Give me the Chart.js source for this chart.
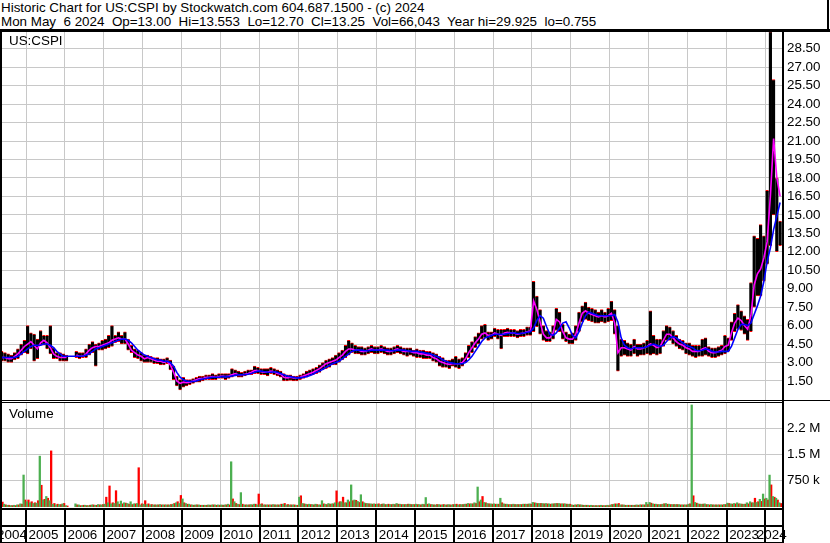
<!DOCTYPE html>
<html>
<head>
<meta charset="utf-8">
<title>US:CSPI historic chart</title>
<script src="https://cdn.jsdelivr.net/npm/chart.js@4.4.1/dist/chart.umd.min.js"></script>
<style>
    body { margin: 0; background: #fff; }
    #wrap { position: relative; width: 830px; height: 543px; overflow: hidden; font-family: "Liberation Sans", Arial, sans-serif; font-size: 13.4px; color: #000; }
    .title { position: absolute; left: 1px; white-space: pre; line-height: 15px; }
    .tag { position: absolute; line-height: 15px; }
    .rule { position: absolute; background: #000; }
    canvas { position: absolute; }
</style>
</head>
<body>
<div id="wrap">
    <canvas id="priceChart" width="828" height="368" style="left:2px;top:32px"></canvas>
    <canvas id="volumeChart" width="828" height="140" style="left:2px;top:403px"></canvas>
    <div class="title" id="titleLine" style="top:0"></div>
    <div class="title" id="quoteLine" style="top:14px"></div>
    <div class="tag" id="symbolTag" style="left:9px;top:33px"></div>
    <div class="tag" id="volumeTag" style="left:9px;top:406px"></div>
    <div class="rule" style="left:0;top:29px;width:830px;height:3px"></div>
    <div class="rule" style="left:827px;top:0;width:2px;height:32px"></div>
    <div class="rule" style="left:0;top:29px;width:2px;height:514px"></div>
    <div class="rule" style="left:782px;top:29px;width:2px;height:514px"></div>
    <div class="rule" style="left:0;top:400px;width:830px;height:1px"></div>
    <div class="rule" style="left:0;top:402px;width:784px;height:1px"></div>
</div>
<script>
// Monthly bars, May 2004 .. May 2024 (prices in $, volumes in thousands)
const startYear = 2004
const startMonth = 5

const highs = [
    3.9, 3.8, 3.7, 3.6, 3.8, 4.1, 4.5, 4.8,                  // 2004
    6.0, 5.4, 5.3, 4.9, 5.6, 5.2, 5.2, 6.0, 4.2, 3.8, 3.8, 3.7, // 2005
    3.6, null, null, 3.9, 3.8, 3.8, 4.1, 4.5, 4.7, 4.5, 4.6, 4.8, // 2006
    4.9, 5.2, 6.0, 5.2, 5.5, 5.2, 5.5, 4.9, 4.4, 4.1, 4.0, 3.8, // 2007
    3.6, 3.6, 3.5, 3.4, 3.4, 3.3, 3.3, 3.4, 3.2, 2.7, 1.9, 1.6, // 2008
    1.8, 1.6, 1.6, 1.7, 1.8, 1.9, 1.9, 2.0, 2.0, 2.1, 2.0, 2.1, // 2009
    2.1, 2.1, 2.1, 2.5, 2.4, 2.3, 2.2, 2.3, 2.4, 2.4, 2.7, 2.6, // 2010
    2.5, 2.5, 2.5, 2.6, 2.5, 2.4, 2.3, 2.1, 2.0, 2.0, 1.9, 1.9, // 2011
    2.0, 2.1, 2.3, 2.4, 2.5, 2.6, 2.8, 3.0, 3.2, 3.3, 3.4, 3.6, // 2012
    3.8, 4.0, 4.4, 4.8, 4.6, 4.4, 4.3, 4.3, 4.2, 4.3, 4.4, 4.3, // 2013
    4.3, 4.4, 4.3, 4.2, 4.2, 4.3, 4.4, 4.3, 4.2, 4.2, 4.2, 4.0, // 2014
    4.1, 4.0, 4.0, 3.9, 3.9, 3.8, 3.7, 3.5, 3.4, 3.2, 3.2, 3.3, // 2015
    3.5, 3.3, 3.4, 3.8, 4.4, 4.7, 5.1, 5.4, 6.0, 6.1, 5.5, 5.5, // 2016
    5.8, 5.7, 5.7, 5.7, 5.8, 5.7, 5.7, 5.6, 5.7, 5.7, 5.9, 5.9, // 2017
    9.6, 8.4, 7.3, 6.0, 5.6, 5.5, 6.0, 7.4, 7.1, 6.1, 5.5, 5.3, // 2018
    5.4, 6.0, 7.1, 7.6, 7.9, 7.5, 7.4, 7.3, 7.1, 7.3, 7.1, 7.4, // 2019
    8.0, 7.3, 6.0, 4.9, 4.8, 4.6, 4.5, 4.9, 4.5, 4.5, 4.6, 4.8, // 2020
    7.2, 5.2, 4.9, 4.9, 5.6, 6.0, 5.9, 5.6, 5.2, 4.9, 4.8, 4.6, // 2021
    4.6, 4.4, 4.4, 4.4, 4.9, 5.0, 4.3, 4.2, 4.2, 4.3, 4.4, 5.2, // 2022
    5.0, 6.3, 7.0, 7.7, 7.2, 6.8, 6.5, 9.5, 13.3, 13.1, 14.2, 13.3, // 2023
    17.0, 29.9, 26.0, 18.0, 14.5                             // 2024
]

const lows = [
    3.1, 3.1, 3.0, 3.0, 3.2, 3.3, 3.6, 3.8,
    3.7, 4.1, 3.1, 3.3, 4.4, 4.4, 4.1, 3.7, 3.3, 3.3, 3.1, 3.1,
    3.1, null, null, 3.4, 3.3, 3.4, 3.4, 3.6, 3.8, 2.7, 4.0, 4.0,
    4.1, 4.2, 4.3, 4.6, 4.7, 4.5, 4.5, 4.0, 3.8, 3.4, 3.3, 3.1,
    3.0, 3.0, 3.0, 2.9, 2.9, 2.8, 2.8, 2.9, 2.4, 1.6, 1.1, 0.76,
    1.0, 1.1, 1.2, 1.3, 1.4, 1.4, 1.5, 1.6, 1.6, 1.6, 1.6, 1.7,
    1.7, 1.6, 1.7, 1.8, 1.9, 1.8, 1.8, 1.9, 2.0, 2.0, 2.1, 2.1,
    2.0, 2.0, 1.9, 2.1, 2.0, 1.9, 1.8, 1.5, 1.5, 1.55, 1.5, 1.5,
    1.6, 1.7, 1.8, 1.9, 2.0, 2.1, 2.2, 2.4, 2.5, 2.6, 2.8, 2.8,
    3.0, 3.2, 3.4, 3.6, 3.8, 3.7, 3.7, 3.6, 3.6, 3.7, 3.8, 3.7,
    3.7, 3.8, 3.7, 3.6, 3.6, 3.7, 3.8, 3.7, 3.6, 3.5, 3.6, 3.5,
    3.4, 3.4, 3.3, 3.3, 3.3, 3.1, 3.0, 2.7, 2.6, 2.6, 2.5, 2.7,
    2.6, 2.5, 2.7, 3.0, 3.4, 3.8, 4.2, 4.5, 4.9, 5.0, 4.8, 4.9,
    5.1, 4.9, 4.1, 5.1, 5.1, 5.1, 5.1, 5.0, 5.1, 5.1, 5.2, 5.2,
    5.5, 5.9, 5.3, 4.8, 4.7, 4.7, 4.9, 5.6, 5.5, 4.9, 4.7, 4.5,
    4.5, 4.8, 5.5, 6.3, 6.5, 6.4, 6.3, 6.2, 6.2, 6.3, 6.2, 6.3,
    6.4, 5.3, 2.3, 3.5, 3.6, 3.5, 3.5, 3.7, 3.5, 3.6, 3.6, 3.7,
    3.6, 3.7, 3.6, 3.7, 4.3, 4.8, 4.8, 4.5, 4.3, 4.1, 4.0, 3.7,
    3.6, 3.5, 3.4, 3.5, 3.5, 3.6, 3.5, 3.4, 3.4, 3.5, 3.6, 3.7,
    3.9, 4.8, 5.5, 5.7, 5.6, 5.3, 4.8, 5.5, 7.5, 8.4, 8.4, 9.6,
    11.0, 12.5, 15.0, 12.0, 12.5
]

// short moving average (magenta)
const closes = [
    3.4, 3.4, 3.3, 3.3, 3.5, 3.7, 4.0, 4.3,
    4.5, 4.7, 4.4, 4.1, 4.6, 4.8, 4.6, 4.2, 3.7, 3.5, 3.4, 3.4,
    3.4, null, null, 3.6, 3.5, 3.5, 3.7, 4.0, 4.2, 4.3, 4.3, 4.4,
    4.5, 4.6, 4.8, 4.9, 5.0, 4.9, 4.9, 4.5, 4.0, 3.8, 3.6, 3.5,
    3.3, 3.4, 3.3, 3.2, 3.1, 3.1, 3.0, 3.1, 2.8, 2.2, 1.5, 1.3,
    1.4, 1.35, 1.4, 1.5, 1.6, 1.7, 1.7, 1.8, 1.8, 1.85, 1.8, 1.85,
    1.9, 1.85, 1.9, 2.0, 2.1, 2.0, 2.0, 2.05, 2.1, 2.2, 2.35, 2.35,
    2.25, 2.2, 2.2, 2.3, 2.25, 2.1, 2.05, 1.8, 1.75, 1.8, 1.75, 1.75,
    1.8, 1.9, 2.0, 2.1, 2.2, 2.35, 2.5, 2.7, 2.9, 3.0, 3.1, 3.2,
    3.4, 3.6, 3.9, 4.1, 4.1, 4.0, 4.0, 3.9, 3.9, 4.0, 4.1, 4.0,
    4.0, 4.1, 4.0, 3.9, 3.9, 4.0, 4.1, 4.0, 3.9, 3.9, 3.9, 3.8,
    3.8, 3.7, 3.7, 3.6, 3.6, 3.4, 3.3, 3.1, 3.0, 2.9, 2.85, 2.9,
    2.9, 2.9, 3.0, 3.3, 3.8, 4.2, 4.6, 4.9, 5.3, 5.4, 5.2, 5.2,
    5.4, 5.3, 5.2, 5.4, 5.45, 5.4, 5.4, 5.3, 5.35, 5.4, 5.5, 5.55,
    8.0, 7.3, 6.3, 5.3, 5.0, 5.0, 5.4, 6.5, 6.3, 5.5, 5.0, 4.9,
    4.9, 5.3, 6.2, 7.0, 7.2, 7.0, 6.9, 6.8, 6.7, 6.8, 6.7, 6.8,
    7.0, 6.2, 3.8, 4.2, 4.2, 4.1, 4.0, 4.3, 4.1, 4.1, 4.2, 4.3,
    4.5, 4.4, 4.2, 4.3, 4.8, 5.3, 5.3, 5.0, 4.7, 4.5, 4.4, 4.2,
    4.1, 3.9, 3.9, 3.9, 4.1, 4.2, 3.9, 3.8, 3.8, 3.9, 4.0, 4.3,
    4.4, 5.4, 6.2, 6.6, 6.4, 6.0, 5.7, 6.8, 9.3, 10.2, 10.6, 11.5,
    12.8, 16.5, 21.2, 18.0, 16.5
]

// long moving average (blue)
const avgLong = [
    3.4, 3.4, 3.4, 3.4, 3.4, 3.5, 3.7, 3.9,
    4.1, 4.3, 4.4, 4.4, 4.4, 4.5, 4.5, 4.4, 4.2, 3.9, 3.7, 3.5,
    3.5, 3.5, 3.5, 3.5, 3.5, 3.5, 3.6, 3.7, 3.9, 4.1, 4.2, 4.3,
    4.4, 4.5, 4.6, 4.7, 4.8, 4.9, 4.9, 4.8, 4.6, 4.3, 4.0, 3.8,
    3.6, 3.5, 3.4, 3.3, 3.2, 3.2, 3.1, 3.1, 3.0, 2.7, 2.2, 1.8,
    1.6, 1.5, 1.45, 1.45, 1.5, 1.6, 1.65, 1.7, 1.75, 1.8, 1.8, 1.8,
    1.85, 1.85, 1.85, 1.9, 1.95, 2.0, 2.0, 2.0, 2.05, 2.1, 2.2, 2.3,
    2.3, 2.25, 2.2, 2.2, 2.25, 2.2, 2.1, 2.0, 1.9, 1.85, 1.8, 1.75,
    1.75, 1.8, 1.85, 1.95, 2.05, 2.2, 2.3, 2.45, 2.6, 2.75, 2.9, 3.0,
    3.1, 3.3, 3.5, 3.7, 3.9, 4.0, 4.0, 4.0, 3.95, 3.95, 4.0, 4.0,
    4.0, 4.0, 4.0, 4.0, 3.95, 3.95, 4.0, 4.0, 4.0, 3.95, 3.9, 3.9,
    3.9, 3.85, 3.8, 3.75, 3.7, 3.6, 3.5, 3.4, 3.2, 3.1, 3.0, 2.95,
    2.9, 2.9, 2.9, 3.0, 3.2, 3.5, 3.9, 4.3, 4.7, 5.0, 5.1, 5.2,
    5.3, 5.3, 5.3, 5.3, 5.35, 5.4, 5.4, 5.35, 5.35, 5.4, 5.45, 5.5,
    5.8, 6.4, 6.8, 6.6, 5.9, 5.3, 5.2, 5.4, 5.8, 6.2, 6.3, 5.8,
    5.2, 5.0, 5.5, 6.2, 6.8, 7.1, 7.0, 6.9, 6.8, 6.8, 6.8, 6.8,
    6.8, 6.9, 6.3, 5.0, 4.4, 4.2, 4.1, 4.2, 4.2, 4.2, 4.2, 4.3,
    4.4, 4.5, 4.4, 4.3, 4.4, 4.7, 5.0, 5.1, 5.0, 4.8, 4.6, 4.4,
    4.3, 4.2, 4.0, 3.95, 4.0, 4.1, 4.05, 3.9, 3.85, 3.85, 3.9, 3.9,
    3.9, 4.3, 5.0, 5.7, 6.1, 6.1, 6.0, 6.2, 6.9, 7.6, 8.4, 9.6,
    11.2, 12.3, 13.8, 14.9, 16.0
]

// peak daily volume on up days (green), thousands
const volUp = [
    60, 80, 50, 40, 50, 60, 90, 912,
    150, 120, 100, 110, 1450, 200, 300, 180, 80, 60, 70, 90,
    40, null, null, 90, 60, 40, 50, 40, 60, 50, 70, 60,
    80, 120, 90, 100, 150, 170, 120, 100, 150, 90, 100, 60,
    80, 70, 60, 60, 60, 70, 60, 60, 60, 80, 120, 100,
    230, 100, 80, 60, 60, 60, 50, 50, 60, 60, 60, 60,
    60, 60, 80, 1290, 150, 80, 410, 60, 60, 70, 80, 60,
    80, 60, 60, 60, 70, 60, 60, 80, 60, 60, 60, 50,
    280, 100, 80, 80, 70, 80, 60, 180, 80, 100, 90, 120,
    120, 150, 120, 200, 630, 200, 160, 350, 120, 100, 90, 90,
    80, 70, 90, 70, 70, 80, 100, 80, 70, 70, 80, 70,
    80, 70, 80, 270, 90, 70, 60, 70, 60, 60, 70, 60,
    70, 60, 70, 80, 100, 90, 120, 570, 200, 130, 100, 90,
    90, 80, 250, 90, 80, 70, 80, 70, 70, 80, 80, 90,
    130, 110, 100, 100, 100, 90, 90, 100, 100, 90, 90, 80,
    60, 60, 70, 60, 50, 50, 50, 40, 40, 50, 40, 50,
    60, 80, 80, 60, 60, 50, 50, 50, 60, 60, 60, 130,
    130, 90, 80, 70, 80, 100, 80, 70, 70, 70, 60, 60,
    80, 2910, 130, 90, 80, 90, 70, 70, 60, 60, 60, 70,
    110, 90, 100, 120, 90, 80, 120, 150, 120, 130, 220, 370,
    250, 910, 300, 250, 120
]

// peak daily volume on down days (red), thousands
const volDown = [
    140, 60, 50, 40, 40, 60, 80, 200,
    200, 150, 120, 180, 620, 220, 250, 1600, 100, 80, 70, 100,
    30, null, null, 60, 40, 50, 40, 50, 60, 50, 60, 70,
    280, 600, 120, 465, 80, 90, 110, 80, 70, 90, 1120, 90,
    180, 90, 70, 60, 60, 60, 60, 60, 70, 100, 150, 330,
    120, 80, 60, 50, 60, 50, 50, 50, 50, 60, 50, 50,
    50, 60, 60, 230, 100, 70, 80, 60, 60, 60, 80, 370,
    90, 60, 60, 60, 60, 60, 80, 100, 70, 60, 60, 50,
    320, 90, 70, 70, 60, 70, 60, 90, 70, 80, 90, 460,
    150, 280, 120, 150, 180, 190, 130, 150, 100, 90, 80, 80,
    90, 80, 70, 80, 70, 70, 80, 70, 70, 80, 70, 70,
    70, 60, 70, 80, 70, 60, 70, 60, 70, 60, 60, 70,
    80, 70, 70, 80, 90, 90, 100, 150, 300, 120, 90, 80,
    80, 80, 120, 80, 70, 70, 70, 70, 70, 80, 80, 80,
    120, 100, 100, 90, 90, 80, 90, 100, 90, 90, 80, 80,
    50, 60, 60, 50, 50, 40, 40, 40, 40, 40, 40, 40,
    70, 90, 100, 60, 50, 50, 50, 50, 50, 60, 60, 70,
    110, 80, 70, 70, 90, 80, 70, 70, 70, 60, 60, 60,
    90, 320, 110, 80, 80, 70, 60, 60, 60, 60, 60, 70,
    100, 80, 90, 90, 80, 80, 90, 120, 250, 150, 160, 230,
    200, 630, 280, 200, 100
]

const yearLabels = ["2004", "2005", "2006", "2007", "2008", "2009", "2010", "2011", "2012", "2013", "2014",
    "2015", "2016", "2017", "2018", "2019", "2020", "2021", "2022", "2023", "2024"]
const yearBounds = [2005, 2006, 2007, 2008, 2009, 2010, 2011, 2012, 2013, 2014, 2015,
    2016, 2017, 2018, 2019, 2020, 2021, 2022, 2023, 2024]
const priceTicks = [1.5, 3, 4.5, 6, 7.5, 9, 10.5, 12, 13.5, 15, 16.5, 18, 19.5, 21, 22.5, 24, 25.5, 27, 28.5]
const volTicks = [750, 1500, 2250]
const volTickLabels = ["750 k", "1.5 M", "2.2 M"]

const titleText = "Historic Chart for US:CSPI by Stockwatch.com 604.687.1500 - (c) 2024"
const quoteText = "Mon May  6 2024  Op=13.00  Hi=13.553  Lo=12.70  Cl=13.25  Vol=66,043  Year hi=29.925  lo=0.755"

const xMin = 2004.383
const xMax = 2024.424
const FONT = { family: '"Liberation Sans", Arial, sans-serif', size: 13.4 }
const GRID = "#c8c8c8"

document.getElementById("titleLine").textContent = titleText
document.getElementById("quoteLine").textContent = quoteText
document.getElementById("symbolTag").textContent = "US:CSPI"
document.getElementById("volumeTag").textContent = "Volume"

Chart.defaults.font.family = FONT.family
Chart.defaults.font.size = FONT.size
Chart.defaults.color = "#000"

function monthX(i) {
    return startYear + (startMonth - 1 + i + 0.5) / 12
}

function points(values) {
    return values.map((v, i) => ({ x: monthX(i), y: v }))
}

// shared x axis: grid at each new year, no labels
function yearAxis() {
    return {
        type: "linear",
        offset: false,
        min: xMin,
        max: xMax,
        grid: { color: GRID, drawTicks: false, offset: false },
        border: { display: false },
        ticks: { display: false },
        afterBuildTicks: (scale) => {
            scale.ticks = yearBounds.map((v) => ({ value: v }))
        },
        afterFit: (scale) => {
            scale.height = 0
            scale.paddingLeft = 0
            scale.paddingRight = 0
        },
    }
}

function rightAxis(min, max, tickValues, format) {
    return {
        position: "right",
        min: min,
        max: max,
        grid: { color: GRID, drawTicks: false },
        border: { display: false },
        ticks: { padding: 5, callback: format, autoSkip: false },
        afterBuildTicks: (scale) => {
            scale.ticks = tickValues.map((v) => ({ value: v }))
        },
        afterFit: (scale) => {
            scale.width = 48
            scale.paddingTop = 0
            scale.paddingBottom = 0
        },
    }
}

// year strip under the volume panel
const yearBand = {
    id: "yearBand",
    afterDraw(chart) {
        const ctx = chart.ctx
        const xs = chart.scales.x
        const right = chart.chartArea.right
        const top = chart.chartArea.bottom + 1
        ctx.save()
        ctx.fillStyle = "#000"
        ctx.fillRect(0, top, right + 1, 2)
        ctx.fillRect(0, top + 17, right + 1, 2)
        ctx.fillRect(0, top + 34, right + 1, 1)
        yearBounds.forEach((b) => {
            const px = Math.round(xs.getPixelForValue(b))
            ctx.fillRect(px - 1, top, 2, 36)
        })
        ctx.font = FONT.size + "px " + FONT.family
        ctx.textAlign = "center"
        ctx.textBaseline = "alphabetic"
        yearLabels.forEach((label) => {
            const y0 = Math.max(Number(label), xMin)
            const y1 = Math.min(Number(label) + 1, xMax)
            const mid = (xs.getPixelForValue(y0) + xs.getPixelForValue(y1)) / 2 - 2
            ctx.fillText(label, mid, top + 31)
        })
        ctx.restore()
    },
}

new Chart(document.getElementById("priceChart"), {
    data: {
        datasets: [
            {
                type: "line",
                data: points(closes),
                borderColor: "#ff00ff",
                borderWidth: 1.6,
                pointRadius: 0,
                order: 1,
            },
            {
                type: "line",
                data: points(avgLong),
                borderColor: "#0000ff",
                borderWidth: 1.6,
                pointRadius: 0,
                spanGaps: true,
                order: 0,
            },
            {
                type: "bar",
                data: highs.map((h, i) => ({ x: monthX(i), y: h === null ? null : [lows[i], h] })),
                backgroundColor: "#000",
                borderColor: "#ff0000",
                borderWidth: { top: 1, bottom: 1, left: 0, right: 0 },
                borderSkipped: false,
                barPercentage: 1,
                categoryPercentage: 1,
                grouped: false,
                order: 2,
            },
        ],
    },
    options: {
        responsive: false,
        animation: false,
        layout: { padding: 0 },
        plugins: { legend: { display: false }, tooltip: { enabled: false } },
        scales: {
            x: yearAxis(),
            y: rightAxis(-0.05, 29.86, priceTicks, (v) => v.toFixed(2)),
        },
    },
})

new Chart(document.getElementById("volumeChart"), {
    type: "bar",
    data: {
        datasets: [
            {
                data: points(volUp),
                backgroundColor: "#4caf50",
                barPercentage: 1,
                categoryPercentage: 1,
            },
            {
                data: points(volDown),
                backgroundColor: "#ff0000",
                barPercentage: 1,
                categoryPercentage: 1,
            },
        ],
    },
    options: {
        responsive: false,
        animation: false,
        layout: { padding: { top: 0, left: 0, right: 0, bottom: 36 } },
        plugins: { legend: { display: false }, tooltip: { enabled: false } },
        scales: {
            x: yearAxis(),
            y: rightAxis(0, 2966, volTicks, (v) => volTickLabels[volTicks.indexOf(v)]),
        },
    },
    plugins: [yearBand],
})
</script>
</body>
</html>
